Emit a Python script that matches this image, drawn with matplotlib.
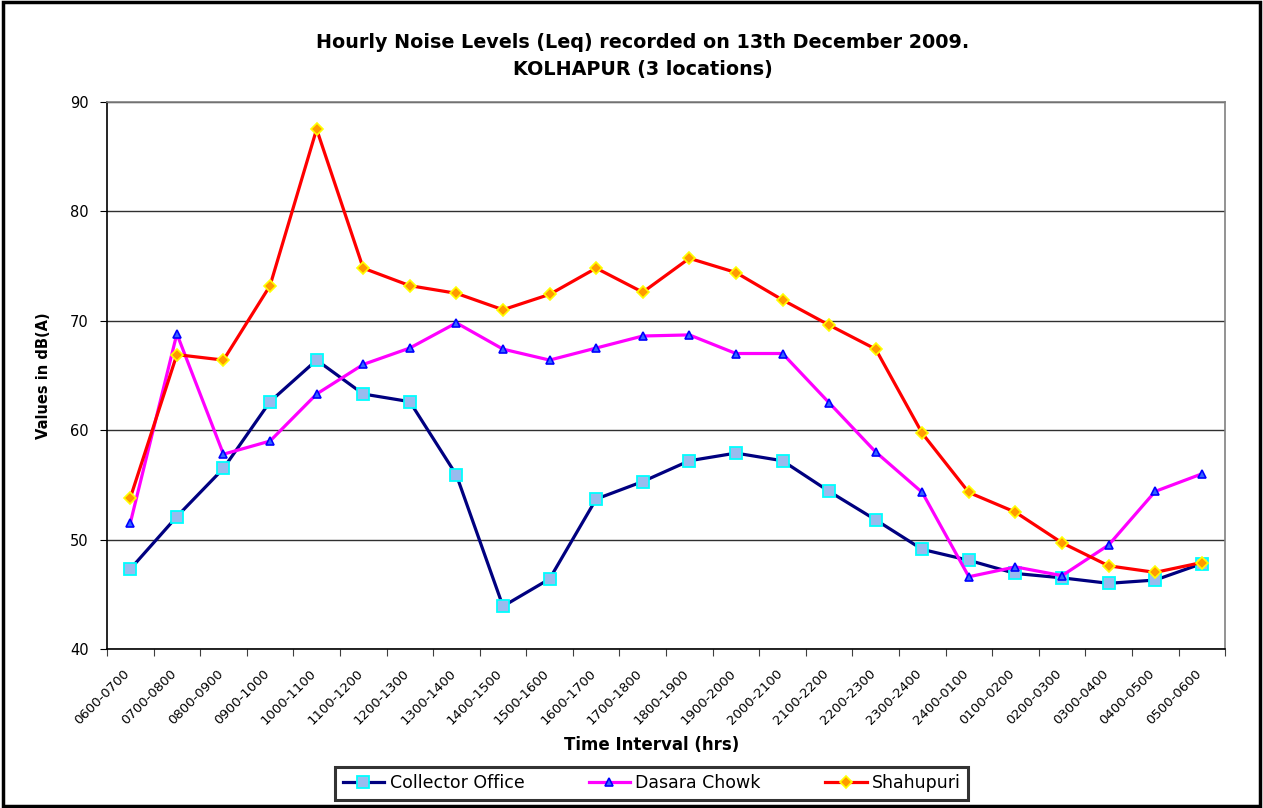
import matplotlib
matplotlib.use("Agg")
import matplotlib.pyplot as plt
import matplotlib.transforms as mtransforms
from matplotlib.patches import Rectangle

intervalos = ["0600-0700", "0700-0800", "0800-0900", "0900-1000", "1000-1100",
              "1100-1200", "1200-1300", "1300-1400", "1400-1500", "1500-1600",
              "1600-1700", "1700-1800", "1800-1900", "1900-2000", "2000-2100",
              "2100-2200", "2200-2300", "2300-2400", "2400-0100", "0100-0200",
              "0200-0300", "0300-0400", "0400-0500", "0500-0600"]

collector_office = [47.3, 52.1, 56.5, 62.6, 66.4, 63.3, 62.6, 55.9, 43.9, 46.4,
                    53.7, 55.3, 57.2, 57.9, 57.2, 54.4, 51.8, 49.1, 48.1, 46.9,
                    46.5, 46.0, 46.3, 47.8]
dasara_chowk = [51.5, 68.8, 57.8, 59.0, 63.3, 66.0, 67.5, 69.8, 67.4, 66.4,
                67.5, 68.6, 68.7, 67.0, 67.0, 62.5, 58.0, 54.3, 46.6, 47.5,
                46.7, 49.5, 54.4, 56.0]
shahupuri = [53.8, 66.9, 66.4, 73.2, 87.5, 74.8, 73.2, 72.5, 71.0, 72.4,
             74.8, 72.6, 75.7, 74.4, 71.9, 69.6, 67.4, 59.7, 54.3, 52.5,
             49.7, 47.6, 47.0, 47.9]

plt.rcParams['font.family'] = 'DejaVu Sans'

fig = plt.figure(figsize=(12.63, 8.08), dpi=100)
ax = fig.add_axes([0.0847, 0.1968, 0.8853, 0.6772])

x = list(range(len(intervalos)))

ax.plot(x, collector_office, color='#000080', linewidth=2.3, marker='s',
        markersize=8, markerfacecolor='#99BBEE', markeredgecolor='#00FFFF',
        markeredgewidth=1.3, label='Collector Office', zorder=3)
ax.plot(x, dasara_chowk, color='#FF00FF', linewidth=2.3, marker='^',
        markersize=5.5, markerfacecolor='#3366FF', markeredgecolor='#0000FF',
        markeredgewidth=1.2, label='Dasara Chowk', zorder=4)
ax.plot(x, shahupuri, color='#FF0000', linewidth=2.3, marker='D',
        markersize=6, markerfacecolor='#FF9900', markeredgecolor='#FFFF00',
        markeredgewidth=1.2, label='Shahupuri', zorder=5)

ax.set_xlim(-0.5, len(intervalos) - 0.5)
ax.set_ylim(40, 90)
ax.set_yticks([40, 50, 60, 70, 80, 90])
ax.yaxis.grid(True, color='#303030', linewidth=1.0)
ax.set_axisbelow(True)

# ticks en los limites de cada categoria, etiquetas en el centro
ax.set_xticks([i - 0.5 for i in range(len(intervalos) + 1)])
ax.set_xticklabels([])
ax.set_xticks(x, minor=True)
ax.set_xticklabels(intervalos, minor=True, rotation=45, ha='right',
                   rotation_mode='anchor', fontsize=9.5)
ax.tick_params(axis='x', which='minor', length=0, pad=13)
ax.tick_params(axis='x', which='major', length=5, color='#404040')
ax.tick_params(axis='y', length=5, labelsize=10.5, pad=8)
desplaza = mtransforms.ScaledTranslation(-7 / 100, 0, fig.dpi_scale_trans)
for etiqueta in ax.get_xticklabels(minor=True):
    etiqueta.set_transform(etiqueta.get_transform() + desplaza)

for lado in ['top', 'right']:
    ax.spines[lado].set_color('#808080')
    ax.spines[lado].set_linewidth(1.2)
for lado in ['left', 'bottom']:
    ax.spines[lado].set_color('black')
    ax.spines[lado].set_linewidth(1.2)

fig.text(0.509, 0.948, "Hourly Noise Levels (Leq) recorded on 13th December 2009.",
         ha='center', va='center', fontsize=13.8, fontweight='bold')
fig.text(0.509, 0.914, "KOLHAPUR (3 locations)",
         ha='center', va='center', fontsize=13.8, fontweight='bold')
ax.set_ylabel("Values in dB(A)", fontsize=10.5, fontweight='bold', labelpad=14)
fig.text(0.516, 0.078, "Time Interval (hrs)", ha='center', va='center',
         fontsize=12, fontweight='bold')

leg = fig.legend(loc='center', bbox_to_anchor=(0.516, 0.0305), ncol=3,
                 fontsize=12.5, frameon=True, fancybox=False,
                 handlelength=2.4, columnspacing=3.7, borderpad=0.42,
                 handletextpad=0.3)
leg.get_frame().set_edgecolor('black')
leg.get_frame().set_linewidth(2.2)

fig.patches.append(Rectangle((0.002, 0.003), 0.996, 0.994, transform=fig.transFigure,
                             fill=False, edgecolor='black', linewidth=2.5))

plt.savefig("out.png", dpi=100)
plt.close()
